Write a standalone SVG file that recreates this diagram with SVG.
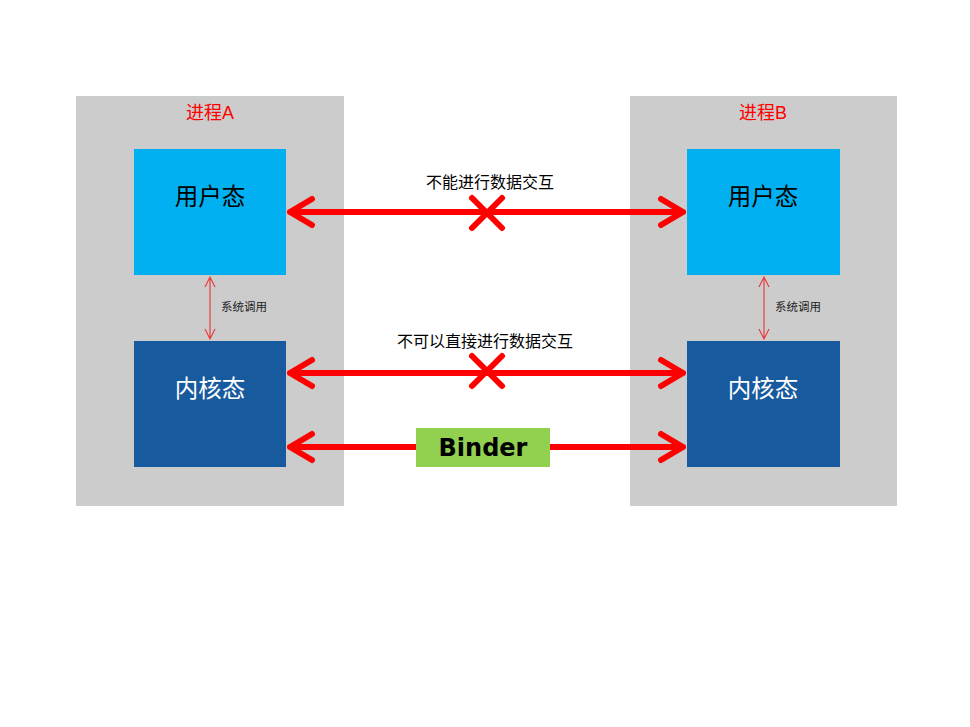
<svg xmlns="http://www.w3.org/2000/svg" width="970" height="727" viewBox="0 0 970 727">
<style>
.proc{fill:#cccccc}
.user{fill:#00b0f0}
.kern{fill:#175a9e}
.ptitle{font-family:"Liberation Sans","Noto Sans CJK SC",sans-serif;font-size:18px;fill:#ff0000;text-anchor:middle}
.ntext{font-family:"Noto Sans CJK SC","Liberation Sans",sans-serif;font-size:23.5px;text-anchor:middle}
.lbl{font-family:"Noto Sans CJK SC","Liberation Sans",sans-serif;font-size:16px;fill:#000;text-anchor:middle}
.small{font-family:"Noto Sans CJK SC","Liberation Sans",sans-serif;font-size:11.5px;fill:#222}
.big{stroke:#ff0000;stroke-width:6;fill:none;stroke-linecap:round;stroke-linejoin:round}
.thin{stroke:#e84040;stroke-width:1.2;fill:none}
</style>
<rect width="970" height="727" fill="#ffffff"/>
<g id="processA">
<rect class="proc" x="76" y="96" width="268" height="410"/>
<text class="ptitle" x="210" y="119">进程A</text>
</g>
<g id="processB">
<rect class="proc" x="630" y="96" width="267" height="410"/>
<text class="ptitle" x="763" y="119">进程B</text>
</g>
<g id="userA">
<rect class="user" x="134" y="149" width="152" height="126"/>
<text class="ntext" x="210" y="205" fill="#000">用户态</text>
</g>
<g id="kernelA">
<rect class="kern" x="134" y="341" width="152" height="126"/>
<text class="ntext" x="210" y="397" fill="#fff">内核态</text>
</g>
<g id="userB">
<rect class="user" x="687" y="149" width="153" height="126"/>
<text class="ntext" x="763" y="205" fill="#000">用户态</text>
</g>
<g id="kernelB">
<rect class="kern" x="687" y="341" width="153" height="126"/>
<text class="ntext" x="763" y="397" fill="#fff">内核态</text>
</g>
<g id="connectors">
<path class="big" d="M290 212 H683 M312 199 L290 212 L312 225 M661 199 L683 212 L661 225"/>
<path class="big" d="M472 198 L502 228 M502 198 L472 228"/>
<text class="lbl" x="490" y="188">不能进行数据交互</text>
<path class="big" d="M290 373 H683 M312 360 L290 373 L312 386 M661 360 L683 373 L661 386"/>
<path class="big" d="M472 356 L502 386 M502 356 L472 386"/>
<text class="lbl" x="485" y="347">不可以直接进行数据交互</text>
<path class="big" d="M290 447 H416 M550 447 H683 M312 434 L290 447 L312 460 M661 434 L683 447 L661 460"/>
<path class="thin" d="M210 277 V339 M205 287 L210 277 L215 287 M205 329 L210 339 L215 329"/>
<text class="small" x="221" y="311">系统调用</text>
<path class="thin" d="M764 277 V339 M759 287 L764 277 L769 287 M759 329 L764 339 L769 329"/>
<text class="small" x="775" y="311">系统调用</text>
</g>
<g id="binder">
<rect x="416" y="428" width="134" height="39" fill="#92d050"/>
<text x="483" y="456" font-family="'DejaVu Sans',sans-serif" font-weight="bold" font-size="24" text-anchor="middle" fill="#000">Binder</text>
</g>
</svg>
